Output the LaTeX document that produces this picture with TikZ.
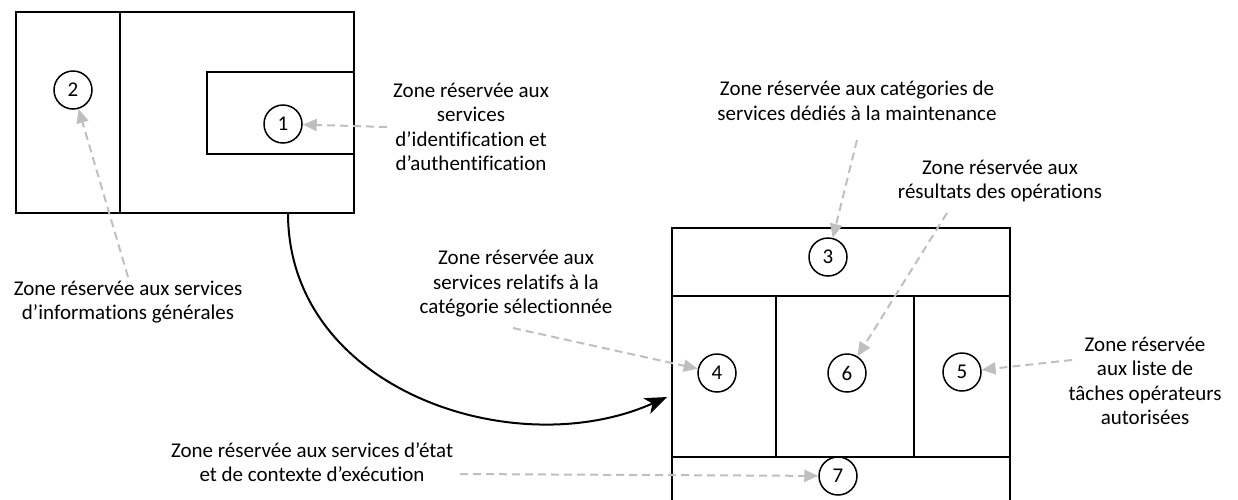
\documentclass[tikz,border=0pt]{standalone}
\usepackage{fontspec}
\setmainfont{Carlito}[Ligatures=NoCommon]
\usetikzlibrary{arrows.meta}
\begin{document}
\begin{tikzpicture}[x=1pt,y=-1pt,
  num/.style={circle,draw,line width=1.5pt,minimum size=38pt,inner sep=0pt,font=\fontsize{21}{24.5}\selectfont},
  lbl/.style={align=center,font=\fontsize{21}{24.5}\selectfont,inner sep=0pt},
  callout/.style={draw=calloutgray,dash pattern=on 8pt off 5pt,line width=2pt,
    -{Triangle[length=14pt,width=12pt,fill=calloutgray]}},
  frame/.style={line width=2.2pt},
  divider/.style={line width=1.6pt},
  bigarrow/.style={line width=2pt,-{Stealth[length=22pt,width=17pt,inset=6pt]}}]
\definecolor{calloutgray}{HTML}{BFBFBF}
\useasboundingbox (0,0) rectangle (1238,499);
\clip (0,0) rectangle (1238,499);

% Screen A
\draw[frame] (16,12) rectangle (354,213);
\draw[frame] (120,12) -- (120,213);
\draw[frame] (207,72) rectangle (354,154);

% Screen B
\draw[frame] (672,520) -- (672,228) -- (1010,228) -- (1010,520);
\draw[frame] (672,296) -- (1010,296);
\draw[frame] (672,457) -- (1010,457);
\draw[divider] (776,296) -- (776,457);
\draw[divider] (914,296) -- (914,457);

% numbered circles
\node[num,fill=white] (c1) at (283,124) {1};
\node[num,fill=white] (c2) at (73,90) {2};
\node[num,fill=white] (c3) at (828,257) {3};
\node[num,fill=white] (c4) at (717,373) {4};
\node[num,fill=white] (c5) at (962,372) {5};
\node[num,fill=white] (c6) at (847,373) {6};
\node[num,fill=white] (c7) at (838,476) {7};

% labels
\node[lbl] (t1) at (471,127) {Zone réservée aux\\services\\d’identification et\\d’authentification};
\node[lbl] (t2) at (128,302) {Zone réservée aux services\\d’informations générales};
\node[lbl] (t3) at (857,101) {Zone réservée aux catégories de\\services dédiés à la maintenance};
\node[lbl] (t4) at (516,284) {Zone réservée aux\\services relatifs à la\\catégorie sélectionnée};
\node[lbl] (t5) at (1145,381) {Zone réservée\\aux liste de\\tâches opérateurs\\autorisées};
\node[lbl] (t6) at (1000,181) {Zone réservée aux\\résultats des opérations};
\node[lbl] (t7) at (312,462) {Zone réservée aux services d’état\\et de contexte d’exécution};

% callout start points
\coordinate (s1) at (387,127);
\coordinate (s2) at (128,277);
\coordinate (s3) at (857,140);
\coordinate (s4) at (513,328);
\coordinate (s5) at (1072,360);
\coordinate (s6) at (947,213);
\coordinate (s7) at (460,474);

\draw[callout] (s1) -- (c1);
\draw[callout] (s2) -- (c2);
\draw[callout] (s3) -- (c3);
\draw[callout] (s4) -- (c4);
\draw[callout] (s5) -- (c5);
\draw[callout] (s6) -- (c6);
\draw[callout] (s7) -- (c7);

% transition arrow
\coordinate (ga) at (288,213);
\coordinate (gb) at (667,397);
\draw[bigarrow] (ga) .. controls (288,390) and (515,465) .. (gb);
\end{tikzpicture}
\end{document}
